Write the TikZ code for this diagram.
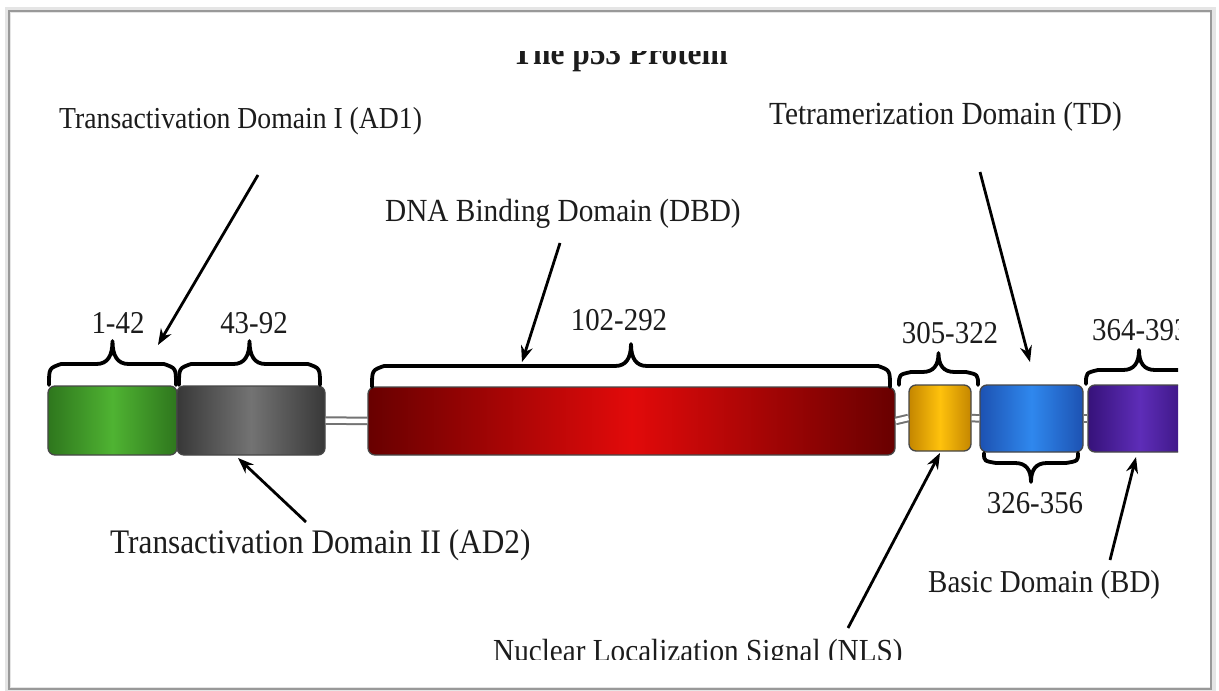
\documentclass[tikz,border=0pt]{standalone}
\usepackage{fontspec}
\setmainfont{Liberation Serif}
\usetikzlibrary{arrows.meta}
\definecolor{ink}{HTML}{1C1C1C}
\definecolor{grE}{HTML}{2E761D}\definecolor{grM}{HTML}{4FB332}
\definecolor{gyE}{HTML}{383838}\definecolor{gyM}{HTML}{737373}
\definecolor{rdE}{HTML}{680000}\definecolor{rdM}{HTML}{E20A0A}
\definecolor{yeE}{HTML}{C48600}\definecolor{yeM}{HTML}{FFC20C}
\definecolor{blE}{HTML}{1D52B2}\definecolor{blM}{HTML}{2F88EE}
\definecolor{puE}{HTML}{36127A}\definecolor{puM}{HTML}{5E2DB8}
\newcommand{\tall}[1]{\scalebox{1}[1.1]{#1}}
\newcommand{\fsz}[1]{\fontsize{#1}{#1}\selectfont}
\newcommand{\dombrace}[6]{% x1, x2, ybase, sign(1 up,-1 down), body height, tip height
  \pgfmathsetmacro\bmid{(#1+#2)/2}
  \draw[brc] ({#1},{#3}) .. controls ({#1},{#3-(#4)*(#5)*0.8}) .. ({#1+12},{#3-(#4)*(#5)})
    -- ({\bmid-16},{#3-(#4)*(#5)})
    .. controls ({\bmid-5},{#3-(#4)*(#5)}) and ({\bmid},{#3-(#4)*((#5)+((#6)-(#5))*0.35)}) .. ({\bmid},{#3-(#4)*(#6)})
    .. controls ({\bmid},{#3-(#4)*((#5)+((#6)-(#5))*0.35)}) and ({\bmid+5},{#3-(#4)*(#5)}) .. ({\bmid+16},{#3-(#4)*(#5)})
    -- ({#2-12},{#3-(#4)*(#5)}) .. controls ({#2},{#3-(#4)*(#5)*0.8}) .. ({#2},{#3});
}
\begin{document}
\begin{tikzpicture}[x=1bp,y=-1bp,
  lbl/.style={font=\fsz{29}, text=ink, inner sep=0pt},
  ttl/.style={font=\fsz{31.5}\bfseries, text=ink, inner sep=0pt},
  dom/.style={rounded corners=7bp, draw=black!72, line width=1.3bp, inner sep=0pt},
  link/.style={draw=black!55, double=white, double distance=4.5bp, line width=2bp},
  brc/.style={draw=black, line width=3.8bp, line cap=round, line join=round},
  arr/.style={draw=black, line width=2.8bp, -{Stealth[length=16bp,width=12bp]}}
]
\useasboundingbox (0,0) rectangle (1219,691);
\fill[white] (0,0) rectangle (1219,691);
% page frame with soft shadow
\draw[black!10, line width=6bp] (8,10) rectangle (1213,690);
\draw[black!40, line width=1.6bp] (9,11) rectangle (1211,689);

\begin{scope}
\clip (0,52) rectangle (1178,659);
% title
\node[ttl, anchor=base] (title) at (620,65) {\tall{The p53 Protein}};

% domains
\node[dom, minimum width=129bp, minimum height=69bp, left color=grE, right color=grE, middle color=grM] (ad1) at (112.5,420.5) {};
\node[dom, minimum width=148bp, minimum height=69bp, left color=gyE, right color=gyE, middle color=gyM] (ad2) at (251,420.5) {};
\node[dom, minimum width=527bp, minimum height=68bp, left color=rdE, right color=rdE, middle color=rdM] (dbd) at (631.5,421) {};
\node[dom, minimum width=62bp, minimum height=66bp, left color=yeE, right color=yeE, middle color=yeM] (nls) at (940,418) {};
\node[dom, minimum width=103bp, minimum height=67bp, left color=blE, right color=blE, middle color=blM] (td) at (1031.5,418.5) {};
\node[dom, minimum width=104bp, minimum height=67bp, left color=puE, right color=puE, middle color=puM] (bd) at (1140,418.5) {};

% linkers
\draw[link] (ad2.east) -- (dbd.west);
\draw[link] (dbd.east) -- (nls.west);
\draw[link] (nls.east) -- (td.west);
\draw[link] (td.east) -- (bd.west);

% braces
\dombrace{49}{176}{385}{1}{21}{44}
\dombrace{179}{320}{385}{1}{21}{44}
\dombrace{372}{890}{387}{1}{21}{43}
\dombrace{899}{978}{385}{1}{13}{32}
\dombrace{1086}{1192}{384}{1}{14}{34}
\dombrace{984}{1078}{453}{-1}{10}{29}

% residue ranges
\node[lbl, anchor=base] (r1) at (118,333) {\tall{1-42}};
\node[lbl, anchor=base] (r2) at (254,333) {\tall{43-92}};
\node[lbl, anchor=base] (r3) at (619,330) {\tall{102-292}};
\node[lbl, anchor=base] (r4) at (950,343) {\tall{305-322}};
\node[lbl, anchor=base west] (r5) at (1092,340) {\tall{364-393}};
\node[lbl, anchor=base] (r6) at (1035,513) {\tall{326-356}};

% domain names
\node[lbl, font=\fsz{27.8}, anchor=base west] (l1) at (59,129) {\tall{Transactivation Domain I (AD1)}};
\node[lbl, font=\fsz{29.4}, anchor=base west] (l2) at (769,125) {\tall{Tetramerization Domain (TD)}};
\node[lbl, font=\fsz{29.4}, anchor=base west] (l3) at (385,222) {\tall{DNA Binding Domain (DBD)}};
\node[lbl, font=\fsz{31.4}, anchor=base west] (l4) at (110,553) {\tall{Transactivation Domain II (AD2)}};
\node[lbl, font=\fsz{29.1}, anchor=base west] (l5) at (928,592) {\tall{Basic Domain (BD)}};
\node[lbl, font=\fsz{29.3}, anchor=base west] (l6) at (493,661) {\tall{Nuclear Localization Signal (NLS)}};

% arrows
\coordinate (t1) at (258,175); \coordinate (h1) at (158,345);
\coordinate (t2) at (560,243); \coordinate (h2) at (522,362);
\coordinate (t3) at (980,172); \coordinate (h3) at (1030,362);
\coordinate (t4) at (306,522); \coordinate (h4) at (238,458);
\coordinate (t5) at (848,628); \coordinate (h5) at (940,453);
\coordinate (t6) at (1110,560); \coordinate (h6) at (1136,457);
\draw[arr] (t1) -- (h1);
\draw[arr] (t2) -- (h2);
\draw[arr] (t3) -- (h3);
\draw[arr] (t4) -- (h4);
\draw[arr] (t5) -- (h5);
\draw[arr] (t6) -- (h6);
\end{scope}
\end{tikzpicture}
\end{document}
